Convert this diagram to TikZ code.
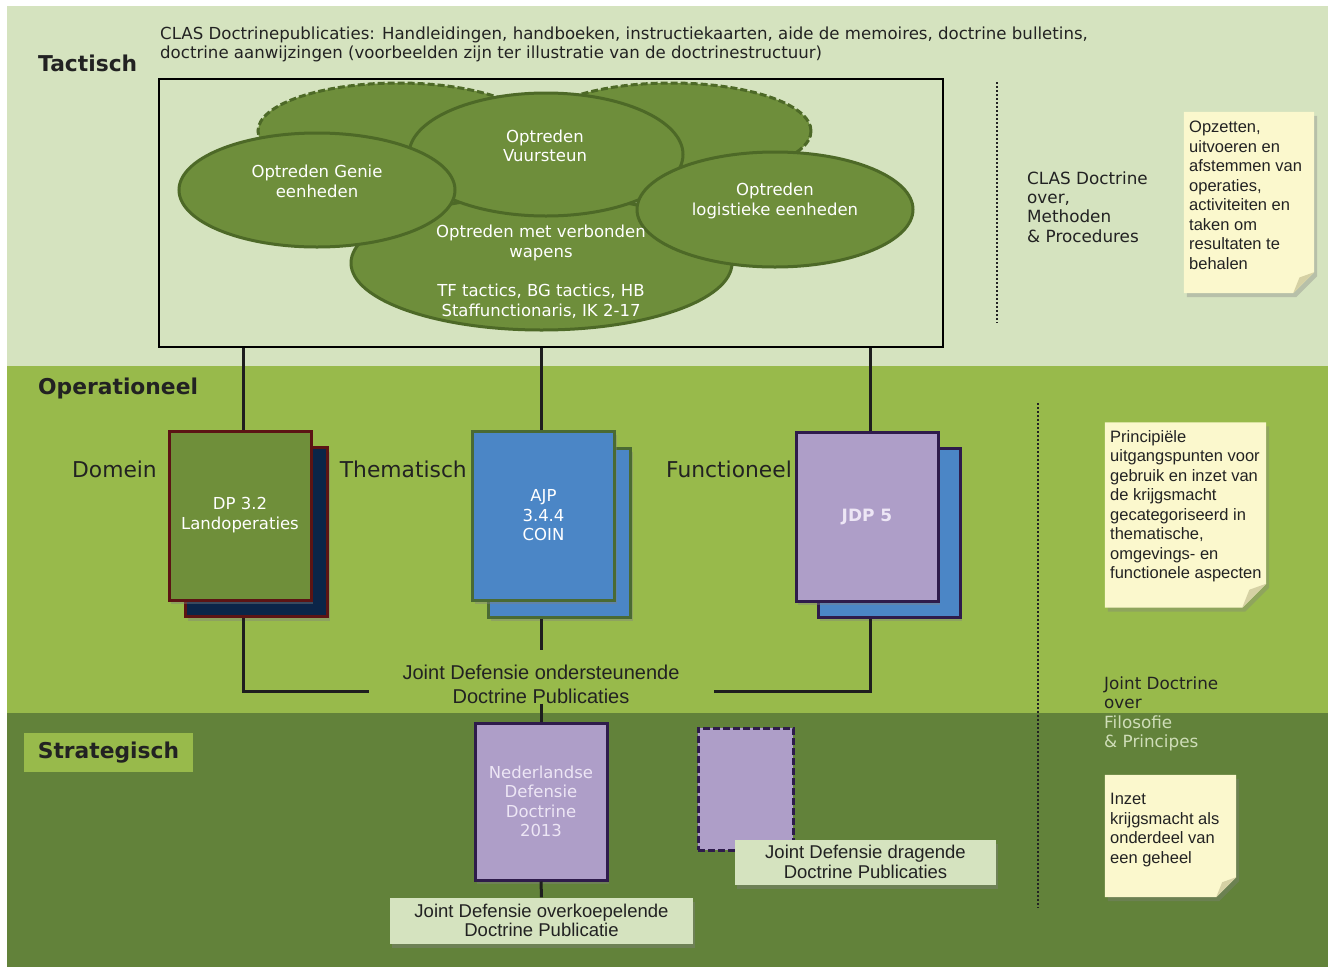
\documentclass[tikz,border=0pt]{standalone}
\usepackage{fontspec}
\setmainfont{DejaVu Sans}
\newfontfamily\arialf{Liberation Sans}
\usetikzlibrary{shapes.geometric,shadows,calc}
\definecolor{topbg}{HTML}{D5E3BF}
\definecolor{midbg}{HTML}{98BA4B}
\definecolor{botbg}{HTML}{62823A}
\definecolor{elfill}{HTML}{6E8E3B}
\definecolor{elline}{HTML}{4D6927}
\definecolor{docgreen}{HTML}{6F8F3A}
\definecolor{maroon}{HTML}{5C1414}
\definecolor{navy}{HTML}{0B2548}
\definecolor{docblue}{HTML}{4B86C6}
\definecolor{blueline}{HTML}{4A6A33}
\definecolor{lav}{HTML}{AE9EC8}
\definecolor{purp}{HTML}{2E1B4B}
\definecolor{notefill}{HTML}{FBF8CD}
\definecolor{foldc}{HTML}{D5D1A4}
\definecolor{txt}{HTML}{222222}
\definecolor{lineclr}{HTML}{1E1E1E}
\definecolor{filo}{HTML}{CFDDB8}
\definecolor{lavtxt}{HTML}{EDE6F5}
\begin{document}
\begin{tikzpicture}[x=1pt,y=-1pt,
  ell/.style={ellipse, draw=elline, fill=elfill, line width=3pt, inner sep=0pt},
  elld/.style={ell, dash pattern=on 7pt off 3pt},
  etxt/.style={text=white, align=center, font=\fontsize{16.5}{19.5}\selectfont, inner sep=0pt},
  docbox/.style={rectangle, line width=3pt, minimum width=142pt, minimum height=169pt, inner sep=0pt},
  shad/.style={drop shadow={shadow xshift=2pt, shadow yshift=-4pt, opacity=0.4}},
  conn/.style={draw=lineclr, line width=3pt},
  lbl/.style={font=\fontsize{21.8}{24}\selectfont, text=txt, inner sep=0pt},
  head/.style={font=\bfseries\fontsize{21.8}{24}\selectfont, text=txt, inner sep=0pt},
  side/.style={font=\fontsize{16.8}{19.4}\selectfont, text=txt, align=left, inner sep=0pt},
  notetxt/.style={font=\arialf\fontsize{16.5}{19.5}\selectfont, text=txt, align=left, inner sep=0pt},
  labelbox/.style={rectangle, fill=topbg, shad, align=center, font=\arialf\fontsize{18.5}{19.5}\selectfont, text=txt, inner sep=0pt},
  dotline/.style={draw=txt, line width=2.5pt, dash pattern=on 2pt off 2pt},
  notebox/.style={rectangle, inner sep=0pt}
]
\useasboundingbox (0,0) rectangle (1328,967);
\fill[white] (0,0) rectangle (1328,967);
\fill[topbg] (7,6) rectangle (1328,366);
\fill[midbg] (7,366) rectangle (1328,713);
\fill[botbg] (7,713) rectangle (1328,967);

% headings
\node[head, anchor=west] (tact) at (38,63.5) {Tactisch};
\node[head, anchor=west] (oper) at (38,388.5) {Operationeel};
\node[head, rectangle, fill=midbg, minimum width=169pt, minimum height=39pt] (strat) at (108.5,752.5) {Strategisch};

\node[anchor=west, align=left, font=\fontsize{16.6}{19}\selectfont, text=txt, inner sep=0pt] (toptext) at (160,44.5)
 {CLAS Doctrinepublicaties: Handleidingen, handboeken, instructiekaarten, aide de memoires, doctrine bulletins,\\
  doctrine aanwijzingen (voorbeelden zijn ter illustratie van de doctrinestructuur)};

% frame
\node[draw=black, line width=1.5pt, minimum width=784pt, minimum height=268pt, inner sep=0pt] (frame) at (551,213) {};

% ellipses
\node[elld, minimum width=280pt, minimum height=96pt] (dl) at (398,131) {};
\node[elld, minimum width=280pt, minimum height=96pt] (dr) at (671,131) {};
\node[ell, minimum width=381pt, minimum height=134pt] (verb) at (541.5,263) {};
\node[ell, minimum width=274pt, minimum height=123pt] (vuur) at (546,154.5) {};
\node[ell, minimum width=276pt, minimum height=114pt] (genie) at (317,190) {};
\node[ell, minimum width=276pt, minimum height=115pt] (logi) at (775,209.5) {};

\node[etxt] (vuurt) at (545,146) {Optreden\\Vuursteun};
\node[etxt] (geniet) at (317,181.5) {Optreden Genie\\eenheden};
\node[etxt] (logit) at (775,201) {Optreden\\logistieke eenheden};
\node[etxt] (verbt) at (541,243) {Optreden met verbonden\\wapens};
\node[etxt] (verbt2) at (541,301) {TF tactics, BG tactics, HB\\Staffunctionaris, IK 2-17};

% documents
\node[docbox, fill=navy, draw=maroon, shad] (dpb) at (256.5,532) {};
\node[docbox, fill=docgreen, draw=maroon, shad, text=white, align=center, font=\fontsize{16.5}{20}\selectfont] (dp) at (240,515.5) {DP 3.2\\Landoperaties};
\node[docbox, fill=docblue, draw=blueline, shad] (ajpb) at (559.5,532.5) {};
\node[docbox, fill=docblue, draw=blueline, shad, text=white, align=center, font=\fontsize{16.5}{19.5}\selectfont] (ajp) at (543.5,515.5) {AJP\\3.4.4\\COIN};
\node[docbox, fill=docblue, draw=purp, shad] (jdpb) at (889,532.5) {};
\node[docbox, fill=lav, draw=purp, shad, text=lavtxt, font=\bfseries\fontsize{17}{19.5}\selectfont] (jdp) at (867,516.5) {JDP 5};

\node[lbl, anchor=east] (dom) at (157,469.5) {Domein};
\node[lbl, anchor=east] (them) at (467,469.5) {Thematisch};
\node[lbl, anchor=east] (func) at (792,469.5) {Functioneel};

% connectors top
\draw[conn] ($(dp.north |- frame.south)+(3,0)$) -- ($(dp.north)+(3,0)$);
\draw[conn] ($(ajp.north |- frame.south)+(-2,0)$) -- ($(ajp.north)+(-2,0)$);
\draw[conn] ($(jdp.north |- frame.south)+(3,0)$) -- ($(jdp.north)+(3,0)$);

% middle label
\node[align=center, font=\arialf\fontsize{20}{24}\selectfont, text=txt, inner sep=0pt] (jdo) at (541,684) {Joint Defensie ondersteunende\\Doctrine Publicaties};
\coordinate (jl) at (369,691);
\coordinate (jr) at (714,691);
\coordinate (jm) at (541.5,650);
\draw[conn] ($(dp.south |- dpb.south)+(3,0)$) |- (jl);
\draw[conn] ($(ajp.south |- ajpb.south)+(-2,0)$) -- (jm);
\draw[conn] ($(jdp.south |- jdpb.south)+(3,0)$) |- (jr);

% strategic
\node[rectangle, fill=lav, draw=purp, line width=3pt, minimum width=132pt, minimum height=157pt, inner sep=0pt, shad, text=lavtxt, align=center, font=\fontsize{16.5}{19.4}\selectfont] (nldd) at (541,801.5) {Nederlandse\\Defensie\\Doctrine\\2013};
\node[rectangle, fill=lav, draw=purp, line width=3pt, dash pattern=on 7pt off 3pt, minimum width=95pt, minimum height=122pt, inner sep=0pt] (dash) at (745.5,789) {};
\draw[conn] (jdo.south -| nldd.north) -- (nldd.north);
\node[labelbox, minimum width=261pt, minimum height=45pt] (jdd) at (865.5,862) {Joint Defensie dragende\\Doctrine Publicaties};
\node[labelbox, minimum width=303pt, minimum height=46pt] (jdov) at (541.5,920.5) {Joint Defensie overkoepelende\\Doctrine Publicatie};
\draw[conn] (nldd.south) -- (jdov.north);

% right side
\draw[dotline] (997,82) -- (997,323);
\draw[dotline] (1038,403) -- (1038,908);
\node[side, anchor=west] (clas) at (1027,207) {CLAS Doctrine\\over,\\Methoden\\\& Procedures};
\node[side, anchor=west] (jdoc) at (1104,714) {Joint Doctrine\\over\\\textcolor{filo}{Filosofie}\\\textcolor{filo}{\& Principes}};

% notes
\node[notebox, minimum width=130pt, minimum height=181pt] (n1) at (1249,202.5) {};
\node[notebox, minimum width=161pt, minimum height=185pt] (n2) at (1185.5,515) {};
\node[notebox, minimum width=131pt, minimum height=122pt] (n3) at (1170.5,836) {};
\foreach \n/\c in {n1/21,n2/24,n3/20}{
  \fill[notefill, drop shadow={shadow xshift=3pt, shadow yshift=-4pt, opacity=0.35}]
    (\n.north west) -- (\n.north east) -- ($(\n.south east)+(0,-\c)$) -- ($(\n.south east)+(-\c,0)$) -- (\n.south west) -- cycle;
  \fill[foldc] ($(\n.south east)+(0,-\c)$) -- ($(\n.south east)+(-\c,0)$) -- ($(\n.south east)+(-0.7*\c,-0.75*\c)$) -- cycle;
}
\node[notetxt, anchor=west] (n1t) at (1189,195.5) {Opzetten,\\uitvoeren en\\afstemmen van\\operaties,\\activiteiten en\\taken om\\resultaten te\\behalen};
\node[notetxt, anchor=west] (n2t) at (1110,506) {Principiële\\uitgangspunten voor\\gebruik en inzet van\\de krijgsmacht\\gecategoriseerd in\\thematische,\\omgevings- en\\functionele aspecten};
\node[notetxt, anchor=west] (n3t) at (1110,830) {Inzet\\krijgsmacht als\\onderdeel van\\een geheel};
\end{tikzpicture}
\end{document}
